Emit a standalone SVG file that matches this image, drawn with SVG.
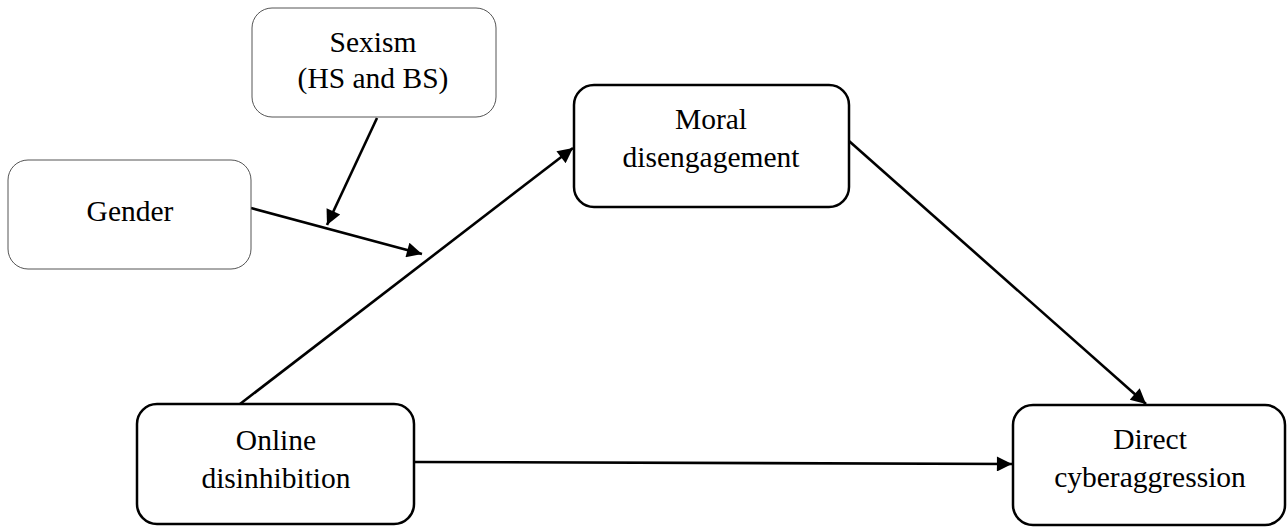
<svg xmlns="http://www.w3.org/2000/svg" width="1288" height="527" viewBox="0 0 1288 527">
<style>
.thin{fill:#fff;stroke:#555;stroke-width:1}
.thick{fill:#fff;stroke:#000;stroke-width:2.5}
.lbl{font-family:"Liberation Serif","Times New Roman",serif;font-size:29.5px;fill:#000;text-anchor:middle}
.conn{stroke:#000;stroke-width:2.6;fill:none;marker-end:url(#ah)}
</style>
<defs>
<marker id="ah" viewBox="0 0 10 10" refX="10" refY="5" markerWidth="7.6" markerHeight="5.8" markerUnits="strokeWidth" orient="auto">
<path d="M0,0 L10,5 L0,10 z" fill="#000"/>
</marker>
</defs>
<g id="connectors">
<line class="conn" x1="240" y1="404" x2="573" y2="148"/>
<line class="conn" x1="849" y1="141" x2="1146" y2="404"/>
<line class="conn" x1="414" y1="462" x2="1012" y2="464"/>
<line class="conn" x1="251" y1="208" x2="422" y2="254"/>
<line class="conn" x1="377" y1="118" x2="327" y2="225"/>
</g>
<g id="sexism">
<rect class="thin" x="252" y="8" width="244" height="109" rx="20"/>
<text class="lbl" x="373" y="52">Sexism</text>
<text class="lbl" x="373" y="88">(HS and BS)</text>
</g>
<g id="gender">
<rect class="thin" x="8" y="160" width="243" height="109" rx="20"/>
<text class="lbl" x="130" y="221">Gender</text>
</g>
<g id="moral">
<rect class="thick" x="574" y="85" width="275" height="122" rx="20"/>
<text class="lbl" x="711" y="129">Moral</text>
<text class="lbl" x="711" y="167">disengagement</text>
</g>
<g id="online">
<rect class="thick" x="137" y="404" width="277" height="120" rx="20"/>
<text class="lbl" x="276" y="450">Online</text>
<text class="lbl" x="276" y="488">disinhibition</text>
</g>
<g id="direct">
<rect class="thick" x="1013" y="405" width="272" height="120" rx="20"/>
<text class="lbl" x="1150" y="449">Direct</text>
<text class="lbl" x="1150" y="487">cyberaggression</text>
</g>
</svg>
